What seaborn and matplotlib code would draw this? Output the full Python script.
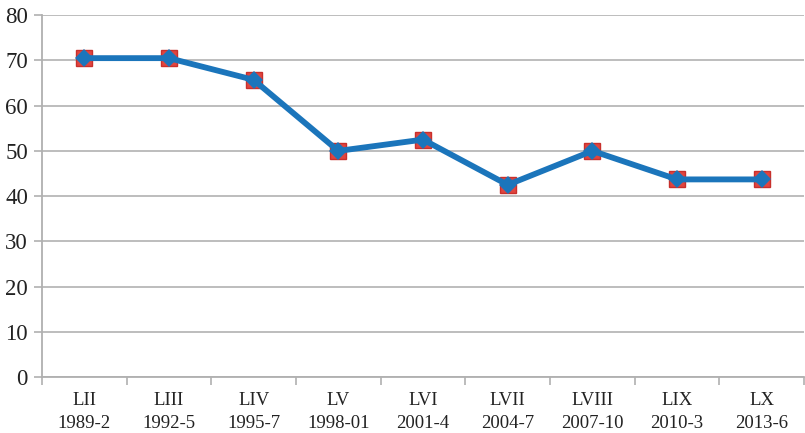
import pandas as pd
import matplotlib.pyplot as plt
import numpy as np
import seaborn as sns

#%% datos
legislaturas = ['LII', 'LIII', 'LIV', 'LV', 'LVI', 'LVII', 'LVIII', 'LIX', 'LX']
periodos = ['1989-2', '1992-5', '1995-7', '1998-01', '2001-4', '2004-7', '2007-10', '2010-3', '2013-6']
valores = [70.5, 70.5, 65.7, 50.0, 52.5, 42.5, 50.0, 43.7, 43.7]

etiquetas = [l + '\n' + p for l, p in zip(legislaturas, periodos)]
df = pd.DataFrame({'x': np.arange(len(valores)), 'y': valores})

#%% grafico
sns.set_style('white')
plt.rcParams['font.family'] = ['Liberation Serif', 'DejaVu Serif']

fig = plt.figure(figsize=(8.05, 4.33), dpi=100)
ax = fig.add_axes([0.052, 0.129, 0.947, 0.836])

# cuadrados rojos (serie de fondo)
ax.plot(df['x'], df['y'], linestyle='none', marker='s', markersize=11,
        markerfacecolor='#e0453f', markeredgecolor='#c8302c', zorder=3)
# linea azul con rombos
sns.lineplot(data=df, x='x', y='y', sort=False, color='#1b75bb', linewidth=4.2,
             marker='D', markersize=9.5, markeredgewidth=0, ax=ax, zorder=4)

ax.set_xlim(-0.5, len(valores) - 0.5)
ax.set_ylim(0, 80)
ax.set_yticks(range(0, 81, 10))
ax.set_xticks(np.arange(len(valores)))
ax.set_xticklabels(etiquetas, fontsize=13.5, color='#222222', linespacing=1.45)
ax.tick_params(axis='y', labelsize=16.5, colors='#222222', length=6, width=1.2,
               direction='out', left=True, color='#b0b0b0', pad=4)
ax.tick_params(axis='x', length=0, pad=11)
# marcas del eje x entre categorias
ax.set_xticks(np.arange(-0.5, len(valores)), minor=True)
ax.tick_params(axis='x', which='minor', length=6, width=1.2, color='#b0b0b0', bottom=True, direction='out')
ax.grid(axis='y', color='#b8b8b8', linewidth=1.3)
ax.grid(axis='x', visible=False)
ax.set_xlabel('')
ax.set_ylabel('')
for s in ['top', 'right']:
    ax.spines[s].set_visible(False)
for s in ['left', 'bottom']:
    ax.spines[s].set_color('#b0b0b0')
    ax.spines[s].set_linewidth(1.3)

fig.savefig('out.png', dpi=100)
